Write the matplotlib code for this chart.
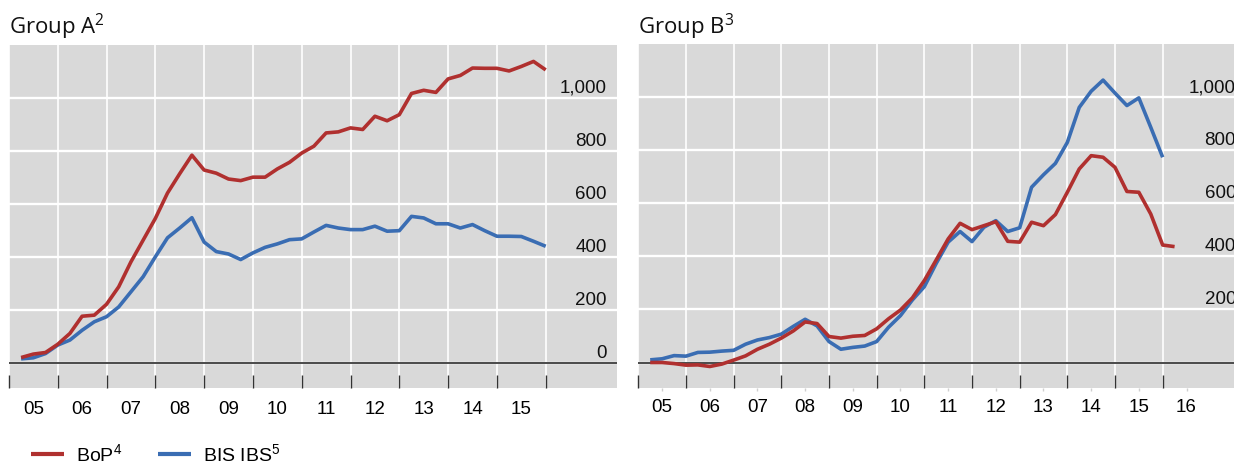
import matplotlib
matplotlib.use("Agg")
import matplotlib.pyplot as plt
import numpy as np

plt.rcParams['mathtext.default'] = 'regular'

# ---------------- data (quarterly, 2005Q1 onwards, quarter-end positions) ----------
start_year = 2005
left_bop = [20, 33, 39, 70, 111, 176, 180, 221, 287, 381, 463, 545, 641, 714, 784, 728,
            716, 694, 688, 701, 701, 732, 757, 792, 818, 868, 872, 887, 881, 931, 914, 937,
            1017, 1029, 1021, 1072, 1085, 1113, 1112, 1112, 1102, 1119, 1138, 1106]
left_ibs = [15, 19, 35, 67, 86, 123, 155, 174, 211, 268, 325, 400, 472, 509, 548, 456,
            420, 411, 390, 415, 436, 449, 465, 468, 494, 519, 509, 503, 503, 516, 497, 499,
            553, 547, 525, 525, 509, 522, 499, 478, 478, 477, 459, 440]
right_bop = [0, 0, -4, -10, -9, -15, -6, 9, 25, 50, 69, 92, 119, 153, 147, 98,
             92, 99, 102, 127, 165, 198, 244, 309, 387, 466, 525, 501, 516, 531, 457, 454,
             529, 516, 558, 642, 730, 780, 774, 736, 645, 642, 560, 443, 437]
right_ibs = [10, 14, 26, 24, 38, 39, 43, 46, 69, 85, 94, 107, 136, 163, 138, 79,
             50, 57, 62, 79, 133, 177, 236, 286, 374, 454, 494, 456, 510, 535, 494, 508,
             661, 708, 751, 830, 962, 1023, 1065, 1016, 969, 998, 887, 774]

left_year_labels = ["05", "06", "07", "08", "09", "10", "11", "12", "13", "14", "15"]
right_year_labels = ["05", "06", "07", "08", "09", "10", "11", "12", "13", "14", "15", "16"]
left_y_labels = [0, 200, 400, 600, 800, 1000]
right_y_labels = [200, 400, 600, 800, 1000]
titles = ["Group A$^{2}$", "Group B$^{3}$"]
series_names = ["BoP$^{4}$", "BIS IBS$^{5}$"]

RED = "#b0302f"
BLUE = "#3a6db3"
BG = "#d9d9d9"
TICKFONT = "Liberation Sans"

W, H = 1234, 463
fig = plt.figure(figsize=(W / 100, H / 100), dpi=100)


def px_axes(l, r, top, bottom):
    return [l / W, (H - bottom) / H, (r - l) / W, (bottom - top) / H]


axL = fig.add_axes(px_axes(8.9, 616.5, 45, 388))
axR = fig.add_axes(px_axes(638.3, 1246, 44.3, 387.7))


def qx(n):
    return start_year + 0.25 * (np.arange(n) + 1)


def style(ax, xmax, year_labels, ylabels, minor_len, minor_pad):
    ax.set_facecolor(BG)
    for s in ax.spines.values():
        s.set_visible(False)
    ax.set_xlim(start_year, xmax)
    ax.set_ylim(-95, 1200)
    ax.set_axisbelow(True)
    ax.set_yticks([0, 200, 400, 600, 800, 1000])
    ax.tick_params(axis='y', length=0, labelleft=False, labelright=False)
    ax.grid(axis='y', color='white', lw=1.7)
    nyears = len(year_labels)
    ax.set_xticks(np.arange(start_year, start_year + 12))
    ax.set_xticks(start_year + 0.5 + np.arange(nyears), minor=True)
    ax.set_xticklabels([], minor=False)
    ax.set_xticklabels(year_labels, minor=True, fontfamily=TICKFONT, fontsize=13.5)
    ax.tick_params(axis='x', which='major', direction='in', length=9.4, width=1.0,
                   color='#333333', labelbottom=False)
    ax.tick_params(axis='x', which='minor', direction='out', length=minor_len, width=1.0,
                   color='#cfcfcf', pad=minor_pad)
    ax.grid(axis='x', which='major', color='white', lw=1.2)
    ax.axhline(0, color='#3c3c3c', lw=1.3, zorder=1.5)
    tr = ax.get_yaxis_transform()
    for v in ylabels:
        ax.annotate(f"{v:,}", xy=(1, v), xycoords=tr, xytext=(-7.2, 3.6),
                    textcoords='offset points', ha='right', va='baseline',
                    fontfamily=TICKFONT, fontsize=13.5, color='#111111',
                    annotation_clip=False)


style(axL, start_year + (616.5 - 8.9) / 48.8, left_year_labels, left_y_labels, 0, 9.5)
style(axR, start_year + (1246 - 638.3) / 47.67, right_year_labels, right_y_labels, 2.2, 6.0)

lb, = axL.plot(qx(len(left_ibs)), left_ibs, color=BLUE, lw=2.6, solid_capstyle='butt')
lr, = axL.plot(qx(len(left_bop)), left_bop, color=RED, lw=2.6, solid_capstyle='butt')
axR.plot(qx(len(right_ibs)), right_ibs, color=BLUE, lw=2.6, solid_capstyle='butt')
axR.plot(qx(len(right_bop)), right_bop, color=RED, lw=2.6, solid_capstyle='butt')

fig.text(9 / W, (H - 34) / H, titles[0], fontfamily="Open Sans", fontsize=16,
         ha='left', va='baseline', color='#111111')
fig.text(638.5 / W, (H - 34) / H, titles[1], fontfamily="Open Sans", fontsize=16,
         ha='left', va='baseline', color='#111111')

leg = fig.legend([lr, lb], series_names, loc='center left',
                 bbox_to_anchor=(31 / W, (H - 454) / H), ncol=2, frameon=False,
                 prop={'family': TICKFONT, 'size': 14}, handlelength=1.7,
                 handletextpad=0.6, columnspacing=1.85, borderpad=0, borderaxespad=0)
for line in leg.get_lines():
    line.set_linewidth(3.0)

fig.savefig("out.png", dpi=100)
